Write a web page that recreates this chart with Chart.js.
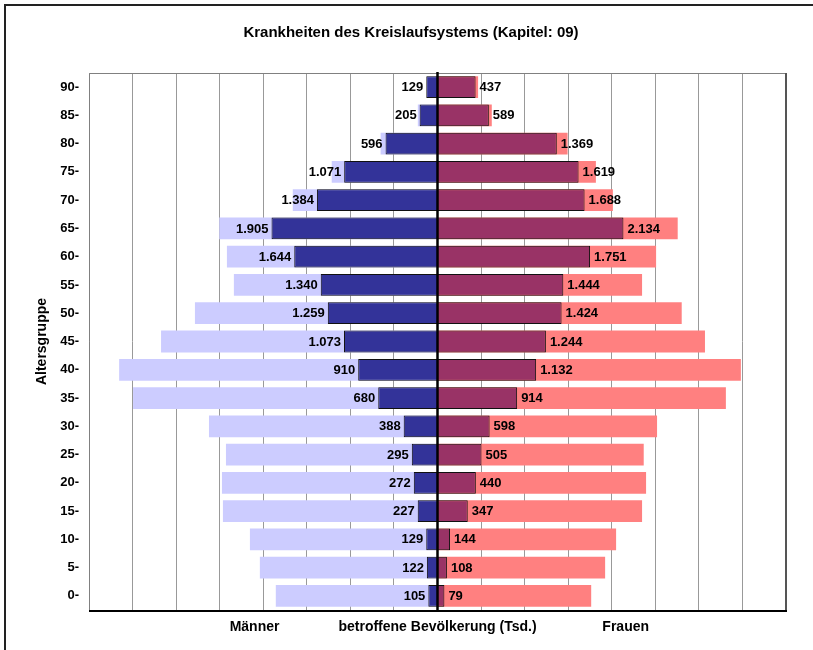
<!DOCTYPE html>
<html>
<head>
<meta charset="utf-8">
<script src="https://cdn.jsdelivr.net/npm/chart.js@4/dist/chart.umd.min.js"></script>
<style>
  html, body { margin: 0; padding: 0; background: #fff; }
  #wrap { width: 813px; height: 650px; }
</style>
</head>
<body>
<div id="wrap"><canvas id="chart" width="813" height="650"></canvas></div>
<script>
// age groups, bottom to top
const ageGroups = ['0-','5-','10-','15-','20-','25-','30-','35-','40-','45-','50-','55-','60-','65-','70-','75-','80-','85-','90-'];

// betroffene Bevölkerung (Tsd.)
const menAffected   = [105, 122, 129, 227, 272, 295, 388, 680, 910, 1073, 1259, 1340, 1644, 1905, 1384, 1071, 596, 205, 129];
const womenAffected = [79, 108, 144, 347, 440, 505, 598, 914, 1132, 1244, 1424, 1444, 1751, 2134, 1688, 1619, 1369, 589, 437];

// Gesamtbevölkerung (Tsd.)
const menTotal   = [1856, 2039, 2153, 2463, 2474, 2428, 2623, 3494, 3654, 3173, 2784, 2337, 2417, 2505, 1661, 1214, 653, 226, 120];
const womenTotal = [1764, 1924, 2050, 2348, 2394, 2367, 2520, 3310, 3482, 3070, 2803, 2348, 2509, 2757, 2013, 1818, 1493, 623, 466];

const FONT = 'Arial, "Liberation Sans", sans-serif';

function fmt(v) {
  return String(v).replace(/\B(?=(\d{3})+(?!\d))/g, '.');
}

const neg = arr => arr.map(v => -v);

const pyramidDecor = {
  id: 'pyramidDecor',
  beforeDraw(chart) {
    const ctx = chart.ctx;
    ctx.save();
    // outer frame (left + top)
    ctx.strokeStyle = '#222';
    ctx.lineWidth = 2;
    ctx.beginPath();
    ctx.moveTo(5, chart.height);
    ctx.lineTo(5, 5);
    ctx.lineTo(chart.width, 5);
    ctx.stroke();
    ctx.restore();
  },
  afterDatasetsDraw(chart) {
    const ctx = chart.ctx;
    const a = chart.chartArea;
    const x = chart.scales.x;
    ctx.save();
    // plot frame
    ctx.strokeStyle = '#808080';
    ctx.lineWidth = 1;
    ctx.beginPath();
    ctx.moveTo(a.left + 0.5, a.bottom);
    ctx.lineTo(a.left + 0.5, a.top + 0.5);
    ctx.lineTo(a.right, a.top + 0.5);
    ctx.stroke();
    ctx.strokeStyle = '#555';
    ctx.lineWidth = 2;
    ctx.beginPath();
    ctx.moveTo(a.right, a.top);
    ctx.lineTo(a.right, a.bottom);
    ctx.stroke();
    ctx.strokeStyle = '#000';
    ctx.beginPath();
    ctx.moveTo(a.left, a.bottom + 1);
    ctx.lineTo(a.right + 1, a.bottom + 1);
    ctx.stroke();

    // zero line
    const x0 = x.getPixelForValue(0);
    ctx.lineWidth = 2.5;
    ctx.beginPath();
    ctx.moveTo(x0, a.top - 1);
    ctx.lineTo(x0, a.bottom + 2);
    ctx.stroke();

    // value labels next to the dark bars
    ctx.font = 'bold 13px ' + FONT;
    ctx.fillStyle = '#000';
    ctx.textBaseline = 'middle';
    [0, 1].forEach(di => {
      const data = chart.data.datasets[di].data;
      chart.getDatasetMeta(di).data.forEach((bar, i) => {
        const v = data[i];
        if (v < 0) {
          ctx.textAlign = 'right';
          ctx.fillText(fmt(-v), bar.x - 3, bar.y + 0.5);
        } else {
          ctx.textAlign = 'left';
          ctx.fillText(fmt(v), bar.x + 4, bar.y + 0.5);
        }
      });
    });
    ctx.restore();
  },
  afterDraw(chart) {
    const ctx = chart.ctx;
    const x = chart.scales.x;
    ctx.save();
    ctx.fillStyle = '#000';
    ctx.textAlign = 'center';
    ctx.textBaseline = 'middle';
    ctx.font = 'bold 15px ' + FONT;
    ctx.fillText('Krankheiten des Kreislaufsystems (Kapitel: 09)', 411, 33);
    ctx.font = 'bold 14px ' + FONT;
    ctx.fillText('Männer', x.getPixelForValue(-2100), 627);
    ctx.fillText('Frauen', x.getPixelForValue(2160), 627);
    ctx.restore();
  }
};

new Chart(document.getElementById('chart').getContext('2d'), {
  type: 'bar',
  data: {
    labels: ageGroups,
    datasets: [
      { label: 'Männer betroffen', data: neg(menAffected), backgroundColor: '#333399', borderColor: '#111', borderWidth: 1, grouped: false },
      { label: 'Frauen betroffen', data: womenAffected, backgroundColor: '#993366', borderColor: '#111', borderWidth: 1, grouped: false },
      { label: 'Männer', data: neg(menTotal), backgroundColor: '#CCCCFF', borderWidth: 0, grouped: false },
      { label: 'Frauen', data: womenTotal, backgroundColor: '#FF8080', borderWidth: 0, grouped: false }
    ]
  },
  options: {
    indexAxis: 'y',
    responsive: false,
    animation: false,
    datasets: { bar: { categoryPercentage: 1, barPercentage: 0.77 } },
    layout: { padding: { top: 73, right: 27, left: 0, bottom: 0 } },
    plugins: {
      legend: { display: false },
      tooltip: { enabled: false },
      title: { display: false }
    },
    scales: {
      x: {
        min: -4000,
        max: 4000,
        ticks: { stepSize: 500, display: false },
        grid: {
          drawTicks: false,
          color: ctx => ctx.tick && ctx.tick.value === 0 ? 'rgba(0,0,0,0)' : '#999',
          lineWidth: 1
        },
        border: { display: false },
        title: {
          display: true,
          text: 'betroffene Bevölkerung (Tsd.)',
          color: '#000',
          font: { family: FONT, size: 14, weight: 'bold' },
          padding: { top: 0, bottom: 14.6 }
        },
        afterFit: s => { s.height = 40; }
      },
      y: {
        reverse: true,
        grid: { display: false, drawTicks: false },
        border: { display: false },
        ticks: { color: '#000', padding: 10, font: { family: FONT, size: 13, weight: 'bold' } },
        title: {
          display: true,
          text: 'Altersgruppe',
          color: '#000',
          font: { family: FONT, size: 14, weight: 'bold' },
          padding: { top: 34, bottom: 0 }
        },
        afterFit: s => { s.width = 89; }
      }
    }
  },
  plugins: [pyramidDecor]
});
</script>
</body>
</html>
